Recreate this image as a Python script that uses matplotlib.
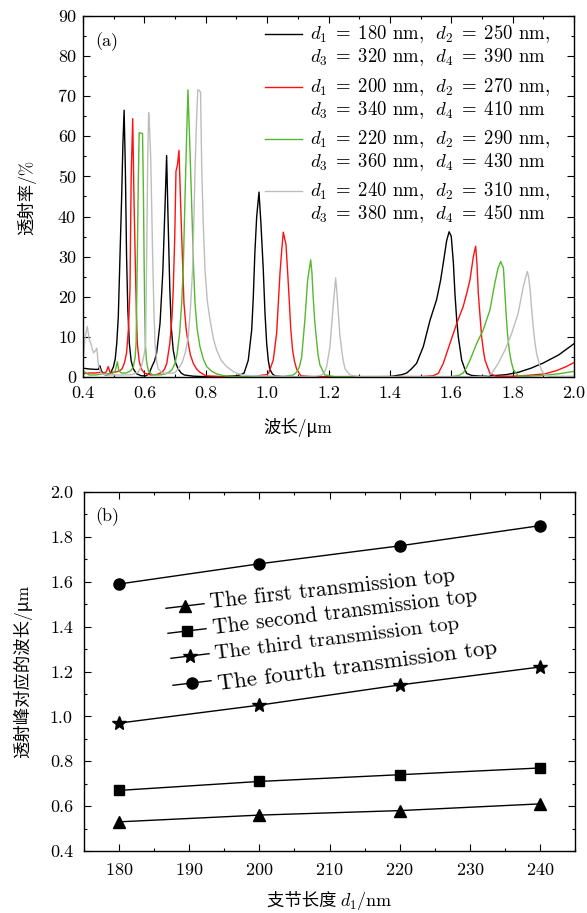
import matplotlib
matplotlib.use("Agg")
import matplotlib.pyplot as plt
from matplotlib.lines import Line2D
from matplotlib.ticker import MultipleLocator, FormatStrFormatter
from matplotlib.offsetbox import TextArea, HPacker, AnnotationBbox

plt.rcParams['font.family'] = ['cmr10', 'Noto Sans CJK SC']
plt.rcParams['mathtext.fontset'] = 'cm'
plt.rcParams['axes.formatter.use_mathtext'] = True
plt.rcParams['axes.unicode_minus'] = False

# ---------------- data: panel (a) transmission spectra ----------------
wl_180 = [0.400, 0.420, 0.440, 0.450, 0.455, 0.460, 0.470, 0.480, 0.490, 0.499, 0.505, 0.510,
          0.515, 0.5205, 0.526, 0.530, 0.534, 0.538, 0.542, 0.546, 0.551, 0.557, 0.564, 0.575,
          0.590, 0.605, 0.615, 0.624, 0.633, 0.640, 0.651, 0.660, 0.667, 0.6725, 0.677, 0.683,
          0.688, 0.694, 0.702, 0.710, 0.720, 0.730, 0.760, 0.800, 0.850, 0.900, 0.915, 0.925,
          0.9386, 0.9497, 0.955, 0.960, 0.966, 0.9735, 0.980, 0.9875, 0.993, 0.9985, 1.004,
          1.009, 1.017, 1.025, 1.050, 1.200, 1.400, 1.440, 1.455, 1.470, 1.487, 1.509, 1.531,
          1.552, 1.565, 1.574, 1.585, 1.593, 1.600, 1.607, 1.612, 1.618, 1.623, 1.634, 1.645,
          1.650, 1.666, 1.700, 1.750, 1.780, 1.820, 1.860, 1.900, 1.950, 2.000]
tr_180 = [2.2, 2.0, 1.9, 1.9, 2.8, 1.5, 0.6, 0.5, 1.0, 2.5, 4.5, 8.4,
          15, 30, 45, 58, 66.5, 52, 30, 17, 8.4, 4, 2, 0.8,
          0.3, 0.3, 0.8, 2.5, 4, 6, 13.4, 26, 42, 55.2, 40, 21.7,
          12, 6.7, 3.5, 2, 1, 0.5, 0.2, 0.1, 0.1, 0.3, 0.6, 1,
          4.2, 11.7, 20, 30.9, 40, 46.1, 38, 26.7, 16, 8.4, 4,
          1.9, 0.8, 0.3, 0.1, 0.0, 0.1, 0.6, 1.0, 2, 3.4, 7.6, 14.2,
          19.2, 24, 28.4, 34, 36.2, 35.1, 28.4, 20.8, 14, 10, 4.2, 1.8,
          0.9, 0.4, 0.2, 0.4, 0.6, 1.2, 2.2, 3.5, 5.5, 8.3]

wl_200 = [0.400, 0.420, 0.440, 0.460, 0.470, 0.476, 0.482, 0.488, 0.500, 0.510, 0.520, 0.527,
          0.535, 0.542, 0.548, 0.553, 0.557, 0.562, 0.566, 0.570, 0.574, 0.577, 0.583, 0.590,
          0.600, 0.620, 0.640, 0.658, 0.666, 0.673, 0.683, 0.690, 0.694, 0.699, 0.703, 0.708,
          0.7128, 0.717, 0.7216, 0.729, 0.736, 0.743, 0.750, 0.7594, 0.770, 0.781, 0.800,
          0.850, 0.950, 1.000, 1.005, 1.020, 1.031, 1.042, 1.048, 1.0527, 1.0615, 1.067,
          1.072, 1.077, 1.083, 1.089, 1.096, 1.110, 1.150, 1.500, 1.540, 1.558, 1.574, 1.596,
          1.618, 1.639, 1.651, 1.661, 1.672, 1.6795, 1.684, 1.688, 1.694, 1.699, 1.705, 1.710,
          1.726, 1.745, 1.800, 1.850, 1.906, 1.943, 1.975, 2.000]
tr_200 = [0.8, 1.0, 1.0, 1.2, 1.0, 1.3, 2.6, 1.2, 1.2, 1.3, 1.6, 2,
          3.5, 6, 12, 21.7, 50, 64.4, 45, 30, 16, 8.4, 4, 2,
          1, 0.5, 0.6, 1.2, 2, 3.4, 8.4, 15, 21.7, 35, 51.3, 53,
          56.5, 46, 35, 18.4, 12, 8.4, 5.5, 3.4, 2, 1.2, 0.3,
          0.1, 0.1, 0.6, 1, 4.2, 10.9, 26, 32, 36.1, 33, 26,
          19.2, 12, 6.7, 4, 2, 0.3, 0.1, 0.1, 0.3, 0.9, 3.4, 8.4,
          13.4, 17.6, 21, 24.2, 30, 32.6, 28, 21, 15, 10, 6.5, 4.2,
          0.9, 0.2, 0.2, 0.4, 0.8, 1.6, 2.6, 3.6]

wl_220 = [0.400, 0.410, 0.420, 0.440, 0.460, 0.480, 0.495, 0.505, 0.512, 0.517, 0.525, 0.540,
          0.555, 0.564, 0.570, 0.573, 0.577, 0.580, 0.583, 0.594, 0.597, 0.599, 0.601, 0.603,
          0.607, 0.613, 0.625, 0.650, 0.670, 0.680, 0.690, 0.700, 0.707, 0.715, 0.7216, 0.727,
          0.732, 0.737, 0.742, 0.748, 0.754, 0.760, 0.765, 0.772, 0.781, 0.792, 0.803, 0.820,
          0.835, 0.860, 0.900, 1.050, 1.085, 1.096, 1.105, 1.1126, 1.123, 1.132, 1.142, 1.146,
          1.150, 1.155, 1.161, 1.166, 1.172, 1.188, 1.220, 1.600, 1.625, 1.639, 1.650, 1.661,
          1.683, 1.704, 1.726, 1.742, 1.752, 1.761, 1.770, 1.774, 1.778, 1.783, 1.789, 1.795,
          1.802, 1.818, 1.850, 1.900, 1.950, 2.000]
tr_220 = [1.5, 1.0, 0.5, 0.5, 0.7, 0.8, 0.8, 1.5, 3.8, 1.5, 1.0, 1.0,
          1.5, 2.5, 5, 8.4, 30, 48, 60.9, 60.7, 45, 30, 17, 8.4,
          4, 1.5, 0.6, 0.5, 0.8, 1.2, 1.8, 3.5, 5.9, 11, 18.4, 28,
          43.4, 58, 71.6, 58, 43.4, 28, 18.4, 12, 7.6, 4.5, 2.6, 1.4,
          0.8, 0.3, 0.1, 0.1, 0.5, 1.2, 2.5, 5, 14.2, 24.2, 29.2, 26,
          20, 14, 9.2, 5.5, 3, 0.5, 0.1, 0.1, 0.4, 1, 2.4, 4.2,
          8.4, 11.7, 16.7, 23.4, 27, 28.8, 27.2, 22, 16.7, 11, 6.7, 4,
          1.9, 0.3, 0.2, 0.4, 0.8, 1.4]

wl_240 = [0.400, 0.407, 0.414, 0.420, 0.427, 0.434, 0.440, 0.445, 0.450, 0.460, 0.480, 0.500,
          0.530, 0.560, 0.580, 0.592, 0.600, 0.604, 0.6075, 0.611, 0.614, 0.617, 0.6205, 0.624,
          0.627, 0.631, 0.6346, 0.640, 0.645, 0.660, 0.680, 0.698, 0.710, 0.722, 0.733, 0.743,
          0.750, 0.757, 0.761, 0.765, 0.770, 0.774, 0.778, 0.783, 0.787, 0.792, 0.7975, 0.805,
          0.814, 0.825, 0.8356, 0.850, 0.868, 0.885, 0.900, 0.920, 0.950, 1.100, 1.160, 1.178,
          1.187, 1.194, 1.2048, 1.2133, 1.219, 1.2233, 1.227, 1.232, 1.237, 1.243, 1.248, 1.254,
          1.270, 1.300, 1.700, 1.720, 1.732, 1.753, 1.775, 1.797, 1.818, 1.835, 1.843, 1.848,
          1.852, 1.857, 1.862, 1.867, 1.872, 1.878, 1.887, 1.895, 1.905, 1.920, 2.000]
tr_240 = [4, 10, 12.6, 9.5, 8, 6, 6.5, 7.2, 3, 0.8, 0.5, 0.5,
          0.5, 0.6, 1.2, 3, 6, 8.4, 30, 55, 65.9, 62, 55, 42,
          30, 17, 8.4, 4, 2, 1, 0.9, 1.0, 2, 3.4, 6, 10,
          17, 26.7, 38, 51.7, 64, 71.6, 71.5, 71.0, 51.7, 38, 26.7, 19,
          14.2, 9.5, 6.7, 4.2, 2.6, 1.6, 1.0, 0.5, 0.3, 0.1, 0.2, 0.5,
          1.2, 2.6, 7.6, 15.9, 21, 24.7, 21.5, 15.9, 10.5, 6.7, 4, 2,
          0.5, 0.1, 0.1, 0.3, 0.9, 3.4, 6.7, 10.9, 15.9, 22.6, 25, 26.3,
          25, 21.7, 17, 12.6, 9, 5.9, 3.2, 1.6, 0.5, 0.2, 0.2]

spec_labels = [
    (r'$d_1 \;=\; 180$ nm,  $d_2 \;=\; 250$ nm,', r'$d_3 \;=\; 320$ nm,  $d_4 \;=\; 390$ nm'),
    (r'$d_1 \;=\; 200$ nm,  $d_2 \;=\; 270$ nm,', r'$d_3 \;=\; 340$ nm,  $d_4 \;=\; 410$ nm'),
    (r'$d_1 \;=\; 220$ nm,  $d_2 \;=\; 290$ nm,', r'$d_3 \;=\; 360$ nm,  $d_4 \;=\; 430$ nm'),
    (r'$d_1 \;=\; 240$ nm,  $d_2 \;=\; 310$ nm,', r'$d_3 \;=\; 380$ nm,  $d_4 \;=\; 450$ nm'),
]

# ---------------- data: panel (b) peak wavelengths ----------------
d1 = [180, 200, 220, 240]
peak_first = [0.53, 0.56, 0.58, 0.61]
peak_second = [0.67, 0.71, 0.74, 0.77]
peak_third = [0.97, 1.05, 1.14, 1.22]
peak_fourth = [1.59, 1.68, 1.76, 1.85]
peak_labels = ['The first transmission top', 'The second transmission top',
               'The third transmission top', 'The fourth transmission top']

# ---------------- figure ----------------
W, H = 587, 913
fig = plt.figure(figsize=(W / 100, H / 100), dpi=100)


def fx(px):
    return px / W


def fy(py):
    return 1 - py / H


def style_axes(ax):
    ax.tick_params(which='both', direction='in', top=True, right=True, labelsize=13, width=0.8)
    ax.tick_params(which='major', length=5)
    ax.tick_params(which='minor', length=2.5)
    for s in ax.spines.values():
        s.set_linewidth(1.0)


# Panel (a)
axa = fig.add_axes([fx(83), fy(377), fx(574) - fx(83), fy(16) - fy(377)])
colors = ['black', '#ff1010', '#55b82e', '#bdbdbd']
series = [(wl_180, tr_180), (wl_200, tr_200), (wl_220, tr_220), (wl_240, tr_240)]
for (wl, tr), c in zip(series, colors):
    axa.plot(wl, tr, color=c, lw=1.0)
axa.set_xlim(0.4, 2.0)
axa.set_ylim(0, 90)
axa.xaxis.set_major_locator(MultipleLocator(0.2))
axa.xaxis.set_minor_locator(MultipleLocator(0.1))
axa.yaxis.set_major_locator(MultipleLocator(10))
axa.yaxis.set_minor_locator(MultipleLocator(5))
axa.xaxis.set_major_formatter(FormatStrFormatter('%.1f'))
axa.yaxis.set_major_formatter(FormatStrFormatter('%d'))
style_axes(axa)
axa.tick_params(axis='y', pad=5)
axa.tick_params(axis='x', pad=6)
fig.text(fx(107), fy(42), '(a)', fontsize=13, ha='center', va='center')

# legend of panel (a), drawn entry by entry
leg_y = [34, 87, 139, 191]
for (l1, l2), c, yy in zip(spec_labels, colors, leg_y):
    fig.add_artist(Line2D([fx(265), fx(302)], [fy(yy), fy(yy)], color=c, lw=1.0,
                          transform=fig.transFigure))
    fig.text(fx(310), fy(yy + 5.5), l1, fontsize=13.5, ha='left', va='baseline')
    fig.text(fx(310), fy(yy + 28), l2, fontsize=13.5, ha='left', va='baseline')

fig.text(fx(298), fy(427), '波长/μm', fontsize=12.5, ha='center', va='center')
fig.text(fx(27), fy(197), '透射率/%', fontsize=12.5, ha='center', va='center', rotation=90)

# Panel (b)
axb = fig.add_axes([fx(84), fy(851), fx(575) - fx(84), fy(492) - fy(851)])
markers = ['^', 's', '*', 'o']
msizes = [8, 7, 10, 8]
peaks = [peak_first, peak_second, peak_third, peak_fourth]
for p, m, ms in zip(peaks, markers, msizes):
    axb.plot(d1, p, color='black', lw=1.0, marker=m, ms=ms, mfc='black', mec='black')
axb.set_xlim(175, 245)
axb.set_ylim(0.4, 2.0)
axb.xaxis.set_major_locator(MultipleLocator(10))
axb.xaxis.set_minor_locator(MultipleLocator(5))
axb.yaxis.set_major_locator(MultipleLocator(0.2))
axb.yaxis.set_minor_locator(MultipleLocator(0.1))
axb.yaxis.set_major_formatter(FormatStrFormatter('%.1f'))
style_axes(axb)
axb.tick_params(axis='y', pad=8)
axb.tick_params(axis='x', pad=8)
fig.text(fx(107), fy(517), '(b)', fontsize=13, ha='center', va='center')

# slanted legend of panel (b)
hx0 = [166, 168, 171, 173]
hy = [606, 631, 656, 683]
tx = [211, 214, 216, 218]
ty = [608, 634, 659, 690]
tsize = [15.5, 15.3, 15, 16.5]
trot = [6.2, 7.0, 7.0, 7.4]
for m, ms, x0, y0, lab, x1, y1, fs, r in zip(markers, msizes, hx0, hy, peak_labels, tx, ty, tsize, trot):
    dx = 38
    dy = dx * 0.12
    fig.add_artist(Line2D([fx(x0), fx(x0 + dx)], [fy(y0 + dy / 2), fy(y0 - dy / 2)],
                          color='black', lw=1.0, transform=fig.transFigure))
    fig.add_artist(Line2D([fx(x0 + dx / 2)], [fy(y0)], color='black', marker=m, ms=ms,
                          mfc='black', mec='black', lw=0, transform=fig.transFigure))
    fig.text(fx(x1), fy(y1), lab, fontsize=fs, rotation=r, rotation_mode='anchor',
             ha='left', va='baseline')

fig.text(fx(23), fy(671), '透射峰对应的波长/μm', fontsize=12.5, ha='center', va='center', rotation=90)

ta1 = TextArea('支节长度 ', textprops=dict(family=['Noto Sans CJK SC'], size=12.5))
ta2 = TextArea(r'$d_1$/nm', textprops=dict(size=13))
pack = HPacker(children=[ta1, ta2], align='baseline', pad=0, sep=0)
ab = AnnotationBbox(pack, (fx(330), fy(901)), xycoords='figure fraction', frameon=False,
                    box_alignment=(0.5, 0.5), pad=0)
fig.add_artist(ab)

fig.savefig('out.png', dpi=100)
